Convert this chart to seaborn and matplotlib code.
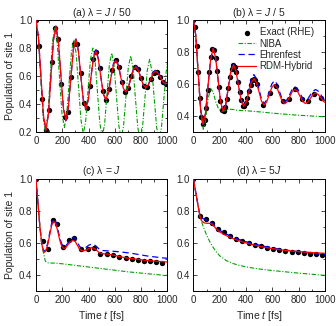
import matplotlib
matplotlib.use("Agg")
import matplotlib.pyplot as plt
import seaborn as sns
from matplotlib.ticker import MultipleLocator

# -------------------------------
# Data
# -------------------------------

# (a) lambda = J/50
t_exact_a = [0, 24, 48, 73, 97, 121, 145, 169, 194, 218, 242, 266, 290, 315, 339, 363,
             387, 411, 435, 460, 484, 508, 532, 556, 581, 605, 629, 653, 677, 701, 726,
             750, 774, 798, 822, 846, 871, 895, 919, 943, 968, 992]
p_exact_a = [1.0, 0.813, 0.439, 0.217, 0.357, 0.704, 0.942, 0.864, 0.545, 0.307, 0.342,
             0.595, 0.826, 0.830, 0.624, 0.412, 0.377, 0.530, 0.719, 0.773, 0.660, 0.497,
             0.433, 0.508, 0.647, 0.712, 0.664, 0.556, 0.489, 0.515, 0.602, 0.663, 0.651,
             0.585, 0.527, 0.526, 0.577, 0.626, 0.633, 0.597, 0.555, 0.547]

t_line_a = [0, 19, 38, 57, 76, 95, 114, 133, 152, 171, 190, 209, 228, 247, 266, 285, 304,
            323, 342, 361, 380, 399, 418, 437, 456, 475, 494, 513, 532, 551, 570, 589, 608,
            627, 646, 665, 684, 703, 722, 741, 760, 779, 798, 817, 836, 855, 874, 893, 912,
            931, 950, 969, 988, 1000]
rdm_a = [1.0, 0.877, 0.596, 0.322, 0.215, 0.334, 0.599, 0.856, 0.955, 0.843, 0.600, 0.370,
         0.285, 0.383, 0.595, 0.792, 0.862, 0.776, 0.593, 0.425, 0.365, 0.438, 0.590, 0.731,
         0.778, 0.717, 0.589, 0.472, 0.433, 0.483, 0.588, 0.681, 0.712, 0.671, 0.588, 0.512,
         0.488, 0.520, 0.587, 0.647, 0.667, 0.640, 0.585, 0.536, 0.519, 0.540, 0.585, 0.624,
         0.636, 0.618, 0.585, 0.554, 0.545, 0.551]
ehr_a = [1.0, 0.877, 0.596, 0.322, 0.215, 0.334, 0.599, 0.856, 0.955, 0.843, 0.600, 0.370,
         0.285, 0.383, 0.595, 0.795, 0.865, 0.779, 0.593, 0.425, 0.365, 0.438, 0.592, 0.738,
         0.788, 0.724, 0.590, 0.472, 0.433, 0.484, 0.592, 0.688, 0.722, 0.678, 0.590, 0.512,
         0.488, 0.521, 0.590, 0.653, 0.675, 0.646, 0.587, 0.536, 0.519, 0.541, 0.588, 0.630,
         0.645, 0.625, 0.588, 0.554, 0.545, 0.551]

t_niba_a = [0, 18, 36, 54, 72, 90, 108, 126, 144, 162, 180, 198, 216, 234, 252, 270, 288,
            306, 324, 342, 360, 378, 396, 414, 432, 450, 468, 486, 504, 522, 540, 558, 576,
            594, 612, 630, 648, 666, 684, 702, 720, 738, 756, 774, 792, 810, 828, 846, 864,
            882, 900, 918, 936, 954, 972, 990, 1000]
niba_a = [1.0, 0.877, 0.591, 0.313, 0.200, 0.316, 0.586, 0.847, 0.950, 0.834, 0.577, 0.331,
          0.235, 0.327, 0.553, 0.775, 0.860, 0.758, 0.523, 0.290, 0.190, 0.281, 0.500, 0.716,
          0.800, 0.705, 0.483, 0.263, 0.170, 0.258, 0.471, 0.681, 0.765, 0.674, 0.461, 0.248,
          0.160, 0.246, 0.454, 0.661, 0.745, 0.656, 0.446, 0.237, 0.150, 0.235, 0.438, 0.639,
          0.720, 0.636, 0.434, 0.233, 0.150, 0.233, 0.431, 0.629, 0.694]

# (b) lambda = J/5
t_exact_b = [0, 12, 24, 36, 48, 60, 73, 85, 97, 109, 121, 133, 145, 157, 169, 181, 194, 206,
             218, 230, 242, 254, 266, 278, 290, 302, 315, 327, 339, 351, 363, 375, 387, 399,
             411, 423, 436, 448, 460, 472, 484, 532, 581, 629, 678, 726, 774, 823, 871, 920,
             968]
p_exact_b = [1.0, 0.957, 0.839, 0.678, 0.516, 0.396, 0.350, 0.377, 0.453, 0.561, 0.675,
             0.769, 0.818, 0.814, 0.763, 0.679, 0.581, 0.495, 0.441, 0.432, 0.458, 0.511,
             0.579, 0.646, 0.696, 0.719, 0.710, 0.673, 0.616, 0.553, 0.499, 0.467, 0.464,
             0.482, 0.516, 0.557, 0.596, 0.625, 0.635, 0.626, 0.599, 0.472, 0.545, 0.589,
             0.495, 0.510, 0.568, 0.505, 0.495, 0.542, 0.516]

t_line_b = [0, 18, 36, 55, 73, 92, 111, 131, 150, 169, 188, 207, 226, 246, 265, 285, 305,
            324, 343, 363, 382, 401, 421, 440, 460, 479, 499, 518, 538, 557, 576, 596, 615,
            635, 654, 674, 694, 713, 733, 752, 772, 792, 811, 831, 851, 871, 890, 910, 930,
            949, 969, 988, 1000]
rdm_b = [1.0, 0.905, 0.675, 0.445, 0.350, 0.419, 0.587, 0.754, 0.823, 0.765, 0.627, 0.488,
         0.430, 0.472, 0.575, 0.678, 0.720, 0.682, 0.591, 0.500, 0.462, 0.487, 0.549, 0.610,
         0.635, 0.611, 0.553, 0.494, 0.470, 0.489, 0.534, 0.579, 0.598, 0.580, 0.538, 0.496,
         0.478, 0.491, 0.523, 0.555, 0.568, 0.555, 0.524, 0.493, 0.480, 0.489, 0.513, 0.536,
         0.545, 0.536, 0.515, 0.494, 0.487]
ehr_b = [1.0, 0.905, 0.675, 0.445, 0.350, 0.419, 0.587, 0.754, 0.823, 0.765, 0.627, 0.488,
         0.430, 0.473, 0.578, 0.682, 0.725, 0.687, 0.595, 0.503, 0.465, 0.494, 0.563, 0.631,
         0.660, 0.634, 0.570, 0.506, 0.480, 0.501, 0.551, 0.601, 0.622, 0.603, 0.556, 0.509,
         0.490, 0.504, 0.537, 0.569, 0.583, 0.571, 0.542, 0.512, 0.500, 0.510, 0.534, 0.557,
         0.567, 0.557, 0.534, 0.510, 0.502]

t_niba_b = [0, 18, 37, 55, 75, 92, 110, 130, 150, 170, 190, 215, 240, 270, 300, 330, 400,
            500, 600, 700, 800, 900, 1000]
niba_b = [1.0, 0.905, 0.670, 0.430, 0.320, 0.370, 0.500, 0.575, 0.550, 0.490, 0.450, 0.430,
          0.435, 0.445, 0.443, 0.438, 0.435, 0.428, 0.420, 0.413, 0.407, 0.402, 0.397]

# (c) lambda = J
t_exact_c = [0, 50, 88, 132, 158, 208, 252, 292, 345, 392, 440, 490, 538, 586, 634, 682,
             728, 774, 820, 866, 912, 958]
p_exact_c = [1.0, 0.610, 0.560, 0.745, 0.715, 0.575, 0.615, 0.630, 0.565, 0.565, 0.570,
             0.533, 0.530, 0.527, 0.512, 0.505, 0.500, 0.495, 0.490, 0.485, 0.478, 0.474]

t_line_c = [0, 15, 30, 45, 60, 75, 90, 105, 120, 135, 150, 165, 180, 195, 210, 225, 240, 255,
            270, 285, 300, 315, 330, 345, 360, 380, 400, 420, 440, 460, 480, 500, 550, 600,
            650, 700, 750, 800, 850, 900, 950, 1000]
rdm_c = [1.0, 0.850, 0.700, 0.590, 0.540, 0.550, 0.590, 0.650, 0.710, 0.735, 0.720, 0.675,
         0.620, 0.580, 0.565, 0.568, 0.585, 0.600, 0.612, 0.615, 0.607, 0.585, 0.563, 0.552,
         0.550, 0.555, 0.565, 0.570, 0.567, 0.555, 0.540, 0.533, 0.530, 0.522, 0.512, 0.505,
         0.500, 0.495, 0.490, 0.487, 0.484, 0.481]
ehr_c = [1.0, 0.850, 0.700, 0.590, 0.545, 0.560, 0.600, 0.665, 0.725, 0.748, 0.735, 0.690,
         0.635, 0.595, 0.578, 0.580, 0.595, 0.615, 0.628, 0.635, 0.628, 0.605, 0.580, 0.568,
         0.565, 0.572, 0.585, 0.592, 0.590, 0.578, 0.562, 0.553, 0.550, 0.547, 0.543, 0.538,
         0.532, 0.525, 0.518, 0.513, 0.508, 0.504]

t_niba_c = [0, 15, 30, 45, 55, 60, 70, 80, 100, 150, 200, 300, 400, 500, 600, 700, 800,
            900, 1000]
niba_c = [1.0, 0.850, 0.700, 0.590, 0.545, 0.530, 0.490, 0.478, 0.475, 0.474, 0.470, 0.460,
          0.450, 0.440, 0.430, 0.420, 0.412, 0.404, 0.397]

# (d) lambda = 5J
t_exact_d = [0, 47, 93, 140, 186, 233, 280, 326, 373, 420, 466, 513, 560, 606, 653, 700,
             746, 793, 840, 886, 933, 979]
p_exact_d = [1.0, 0.770, 0.750, 0.725, 0.685, 0.665, 0.642, 0.623, 0.610, 0.598, 0.588,
             0.578, 0.568, 0.561, 0.555, 0.550, 0.546, 0.541, 0.537, 0.533, 0.529, 0.526]

t_line_d = [0, 25, 50, 65, 80, 100, 120, 140, 160, 180, 200, 250, 300, 350, 400, 450, 500,
            550, 600, 650, 700, 750, 800, 850, 900, 950, 1000]
rdm_d = [1.0, 0.880, 0.765, 0.735, 0.725, 0.722, 0.722, 0.718, 0.700, 0.682, 0.668, 0.645,
         0.627, 0.612, 0.600, 0.589, 0.579, 0.571, 0.564, 0.558, 0.553, 0.549, 0.546, 0.543,
         0.540, 0.537, 0.535]
ehr_d = [1.0, 0.880, 0.770, 0.755, 0.748, 0.742, 0.735, 0.725, 0.708, 0.690, 0.678, 0.655,
         0.636, 0.620, 0.607, 0.596, 0.586, 0.577, 0.569, 0.562, 0.556, 0.550, 0.545, 0.540,
         0.535, 0.531, 0.527]

t_niba_d = [0, 25, 50, 75, 100, 125, 150, 175, 200, 250, 300, 350, 400, 450, 500, 600, 700,
            800, 900, 1000]
niba_d = [1.0, 0.880, 0.765, 0.700, 0.650, 0.607, 0.572, 0.543, 0.520, 0.490, 0.472, 0.460,
          0.451, 0.444, 0.438, 0.428, 0.420, 0.412, 0.405, 0.398]

titles = ["(a) λ = $J$ / 50", "(b) λ = $J$ / 5", "(c) λ = $J$", "(d) λ = 5$J$"]
labels = ["Exact (RHE)", "NIBA", "Ehrenfest", "RDM-Hybrid"]

# -------------------------------
# Style
# -------------------------------

sns.set_theme(style="ticks")
plt.rcParams["font.family"] = ["Liberation Sans", "DejaVu Sans"]
plt.rcParams["mathtext.fontset"] = "custom"
plt.rcParams["mathtext.rm"] = "Liberation Sans"
plt.rcParams["mathtext.it"] = "Liberation Sans:italic"
plt.rcParams["font.size"] = 7

fig, axes = plt.subplots(2, 2, figsize=(3.36, 3.26), dpi=100)
fig.subplots_adjust(left=0.107, right=0.967, bottom=0.107, top=0.939,
                    wspace=0.197, hspace=0.41)

panels = [
    (t_exact_a, p_exact_a, t_niba_a, niba_a, t_line_a, ehr_a, rdm_a, 0.2),
    (t_exact_b, p_exact_b, t_niba_b, niba_b, t_line_b, ehr_b, rdm_b, 0.3),
    (t_exact_c, p_exact_c, t_niba_c, niba_c, t_line_c, ehr_c, rdm_c, 0.3),
    (t_exact_d, p_exact_d, t_niba_d, niba_d, t_line_d, ehr_d, rdm_d, 0.3),
]

for i, (ax, data) in enumerate(zip(axes.flat, panels)):
    te, pe, tn, pn, tl, pehr, prdm, ymin = data

    sns.scatterplot(x=te, y=pe, ax=ax, color="black", s=15, linewidth=0,
                    zorder=2, label=labels[0])
    sns.lineplot(x=tn, y=pn, ax=ax, color="#00a000", linewidth=0.8,
                 linestyle=(0, (4, 1.5, 1, 1.5)), zorder=3, label=labels[1])
    sns.lineplot(x=tl, y=pehr, ax=ax, color="#0000ff", linewidth=0.9,
                 linestyle=(0, (5, 3)), zorder=4, label=labels[2])
    sns.lineplot(x=tl, y=prdm, ax=ax, color="#ff0000", linewidth=0.9,
                 zorder=5, label=labels[3])

    ax.set_xlim(0, 1000)
    ax.set_ylim(ymin, 1.0)
    ax.xaxis.set_major_locator(MultipleLocator(200))
    ax.xaxis.set_minor_locator(MultipleLocator(100))
    ax.yaxis.set_major_locator(MultipleLocator(0.2))
    ax.yaxis.set_minor_locator(MultipleLocator(0.1))
    ax.yaxis.set_major_formatter(lambda v, pos: "{:.1f}".format(v))
    ax.tick_params(which="both", direction="in", top=True, right=True,
                   labelsize=7, width=0.6, pad=2.5)
    ax.tick_params(which="major", length=3)
    ax.tick_params(which="minor", length=1.8)
    for sp in ax.spines.values():
        sp.set_linewidth(0.7)
        sp.set_color("black")

    ax.set_title(titles[i], fontsize=7.5, pad=3)
    ax.set_xlabel("Time $t$ [fs]" if i >= 2 else "", fontsize=7.5, labelpad=3)
    ax.set_ylabel("Population of site 1" if i % 2 == 0 else "", fontsize=7.5,
                  labelpad=3)

    if i == 1:
        h, l = ax.get_legend_handles_labels()
        ax.legend(h, l, loc="upper right", bbox_to_anchor=(0.93, 0.95),
                  frameon=False, fontsize=7, handlelength=1.9,
                  handletextpad=0.35, labelspacing=0.12, borderaxespad=0.0,
                  borderpad=0.2)
    else:
        ax.get_legend().remove()

fig.savefig("out.png", dpi=100)
